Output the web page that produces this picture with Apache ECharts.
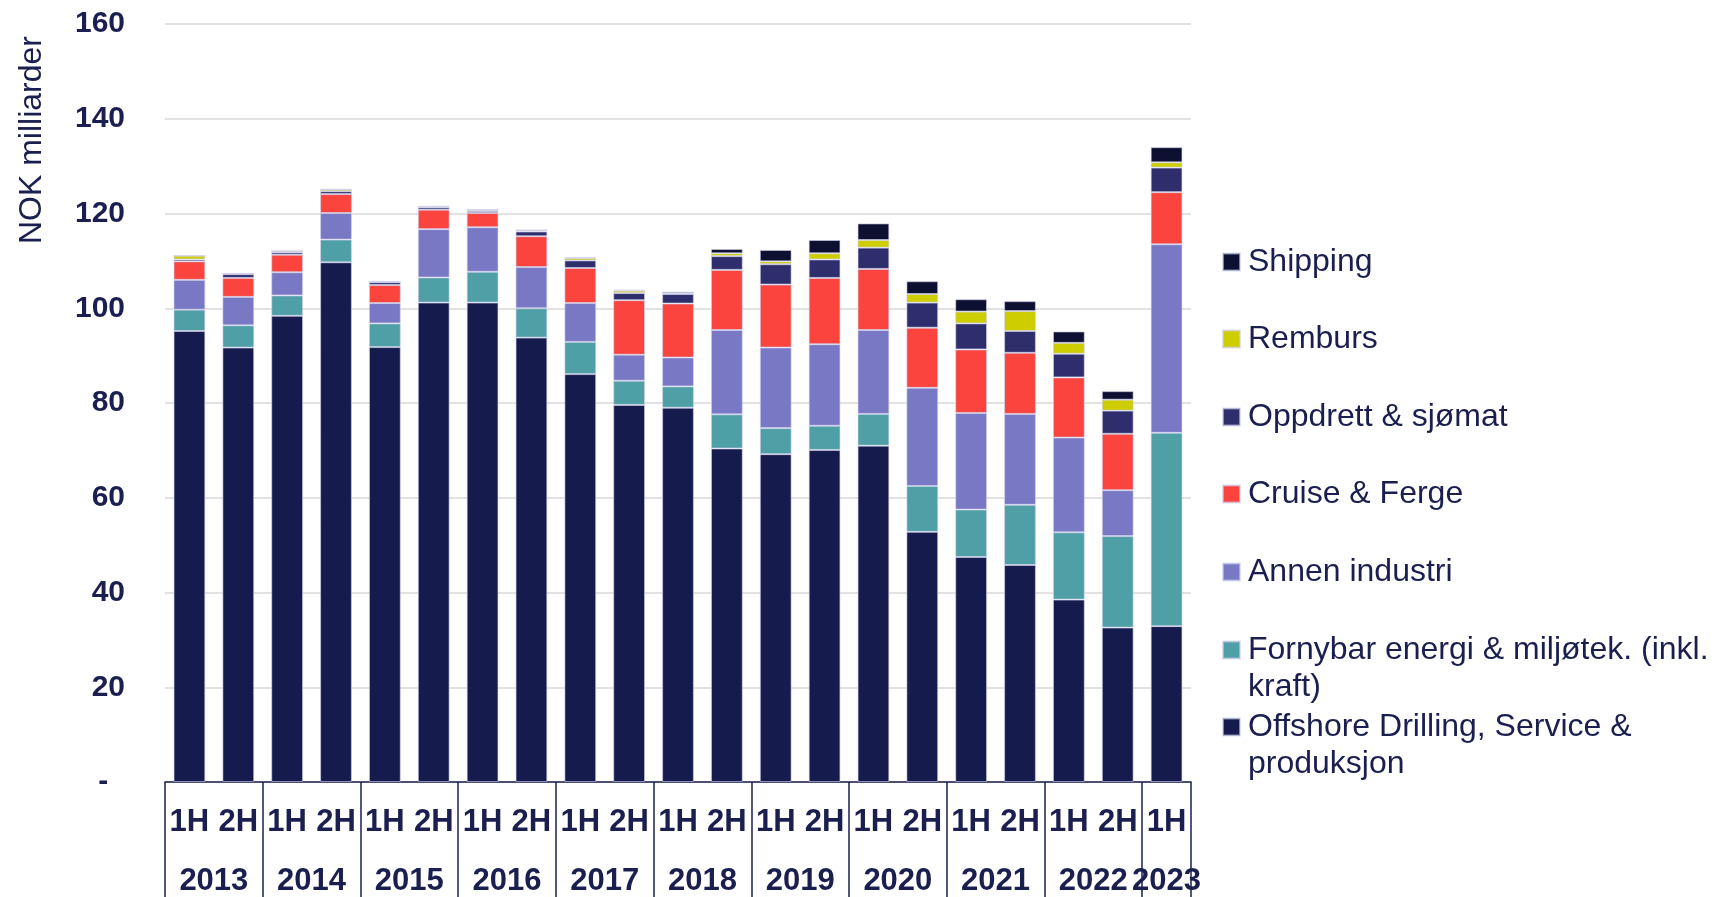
<!DOCTYPE html>
<html>
<head>
<meta charset="utf-8">
<script src="https://cdn.jsdelivr.net/npm/echarts@6/dist/echarts.min.js"></script>
<style>
  html, body { margin: 0; padding: 0; background: #fff; }
  #chart { width: 1722px; height: 897px; }
</style>
</head>
<body>
<div id="chart"></div>
<script>
// halvår og år
const periods = ['1H', '2H', '1H', '2H', '1H', '2H', '1H', '2H', '1H', '2H', '1H', '2H',
  '1H', '2H', '1H', '2H', '1H', '2H', '1H', '2H', '1H'];
const years = ['2013', '2014', '2015', '2016', '2017', '2018', '2019', '2020', '2021', '2022', '2023'];

// NOK milliarder per segment
const offshore = [95.2, 91.7, 98.4, 109.7, 91.8, 101.2, 101.2, 93.8, 86.1, 79.6, 79.0, 70.4, 69.2, 70.1, 71.0, 52.8, 47.5, 45.8, 38.5, 32.6, 32.9];
const fornybar = [4.5, 4.7, 4.3, 4.8, 5.0, 5.3, 6.5, 6.2, 6.8, 5.1, 4.5, 7.2, 5.5, 5.1, 6.7, 9.7, 10.0, 12.7, 14.2, 19.3, 40.8];
const annen = [6.3, 6.0, 4.9, 5.6, 4.3, 10.2, 9.4, 8.7, 8.2, 5.5, 6.1, 17.8, 17.0, 17.2, 17.7, 20.7, 20.4, 19.2, 20.0, 9.7, 39.8];
const cruise = [3.9, 4.0, 3.7, 4.0, 3.8, 4.1, 3.0, 6.5, 7.4, 11.5, 11.4, 12.7, 13.3, 14.0, 12.9, 12.7, 13.4, 12.9, 12.7, 11.9, 11.0];
const oppdrett = [0.4, 0.8, 0.5, 0.6, 0.6, 0.5, 0.4, 1.0, 1.6, 1.5, 2.0, 2.9, 4.3, 3.9, 4.5, 5.3, 5.5, 4.6, 5.0, 4.9, 5.2];
const remburs = [0.8, 0.1, 0.3, 0.4, 0.1, 0.2, 0.3, 0.3, 0.5, 0.5, 0.2, 0.6, 0.6, 1.3, 1.6, 1.8, 2.5, 4.2, 2.3, 2.3, 1.1];
const shipping = [0.0, 0.0, 0.0, 0.0, 0.0, 0.0, 0.0, 0.0, 0.2, 0.2, 0.3, 0.9, 2.4, 2.8, 3.5, 2.7, 2.6, 2.1, 2.4, 1.8, 3.2];

const yTicks = [0, 20, 40, 60, 80, 100, 120, 140, 160];

const navy = '#1a1f4f';
const font = 'Liberation Sans, Arial, sans-serif';

// serier nedenfra og opp
const segments = [
  { name: 'Offshore Drilling, Service & produksjon', label: 'Offshore Drilling, Service &\nproduksjon', data: offshore, color: '#151c4d' },
  { name: 'Fornybar energi & miljøtek. (inkl. kraft)', label: 'Fornybar energi & miljøtek. (inkl.\nkraft)', data: fornybar, color: '#4f9fa6' },
  { name: 'Annen industri', label: 'Annen industri', data: annen, color: '#7878c4' },
  { name: 'Cruise & Ferge', label: 'Cruise & Ferge', data: cruise, color: '#fb443d' },
  { name: 'Oppdrett & sjømat', label: 'Oppdrett & sjømat', data: oppdrett, color: '#2e2e6d' },
  { name: 'Remburs', label: 'Remburs', data: remburs, color: '#cdcd00' },
  { name: 'Shipping', label: 'Shipping', data: shipping, color: '#0d1030' }
];

// årstall midt mellom 1H og 2H (43 halve plasser)
const yearSlots = new Array(periods.length * 2 + 1).fill('');
years.forEach((y, k) => {
  const idx = k < years.length - 1 ? 4 * k + 2 : periods.length * 2 - 1;
  yearSlots[idx] = y;
});

// legende, ett element per komponent (topp til bunn)
// tolinjers tekst får en tom linje foran, så første linje står midt på ikonet
const legendCenters = [262, 339, 417, 494, 572, 650, 727];
const legends = segments.slice().reverse().map((s, i) => {
  const twoLines = s.label.indexOf('\n') >= 0;
  return {
    data: [s.name],
    orient: 'vertical',
    left: 1222,
    top: legendCenters[i] - (twoLines ? 55.5 : 18.5),
    padding: 0,
    itemWidth: 17,
    itemHeight: 17,
    icon: 'rect',
    selectedMode: false,
    formatter: () => (twoLines ? '\n' + s.label : s.label),
    textStyle: {
      color: navy,
      fontFamily: font,
      fontSize: 32,
      lineHeight: 37,
      padding: [0, 0, 0, 3]
    }
  };
});

const chart = echarts.init(document.getElementById('chart'));
chart.setOption({
  animation: false,
  backgroundColor: '#fff',
  grid: { left: 165, right: 531, top: 24, bottom: 113, containLabel: false },
  legend: legends,
  xAxis: [
    {
      type: 'category',
      data: periods,
      position: 'bottom',
      axisLine: { lineStyle: { color: navy, width: 1.5 } },
      axisTick: {
        show: true,
        length: 118,
        interval: (i) => i % 2 === 0,
        lineStyle: { color: navy, width: 1.5 }
      },
      axisLabel: {
        interval: 0,
        margin: 25,
        color: navy,
        fontFamily: font,
        fontWeight: 'bold',
        fontSize: 31
      }
    },
    {
      type: 'category',
      data: yearSlots,
      boundaryGap: false,
      position: 'bottom',
      axisLine: { show: false },
      axisTick: { show: false },
      axisLabel: {
        interval: 0,
        margin: 84,
        color: navy,
        fontFamily: font,
        fontWeight: 'bold',
        fontSize: 31
      }
    }
  ],
  yAxis: {
    type: 'value',
    min: yTicks[0],
    max: yTicks[yTicks.length - 1],
    interval: 20,
    axisLine: { show: false },
    axisTick: { show: false },
    splitLine: { lineStyle: { color: '#d9d9d9', width: 1.5 } },
    axisLabel: {
      margin: 40,
      color: navy,
      fontFamily: font,
      fontWeight: 'bold',
      fontSize: 30,
      formatter: (v) => (v === 0 ? '-  ' : String(v))
    }
  },
  graphic: [
    {
      type: 'text',
      x: 32,
      y: 140,
      rotation: Math.PI / 2,
      style: {
        text: 'NOK milliarder',
        fill: navy,
        fontFamily: font,
        fontSize: 32,
        align: 'center',
        verticalAlign: 'middle'
      }
    }
  ],
  series: segments.map(s => ({
    name: s.name,
    type: 'bar',
    stack: 'total',
    barWidth: '65%',
    data: s.data,
    itemStyle: {
      color: s.color,
      borderColor: 'rgba(205,205,235,0.6)',
      borderWidth: 1
    }
  }))
});
</script>
</body>
</html>
